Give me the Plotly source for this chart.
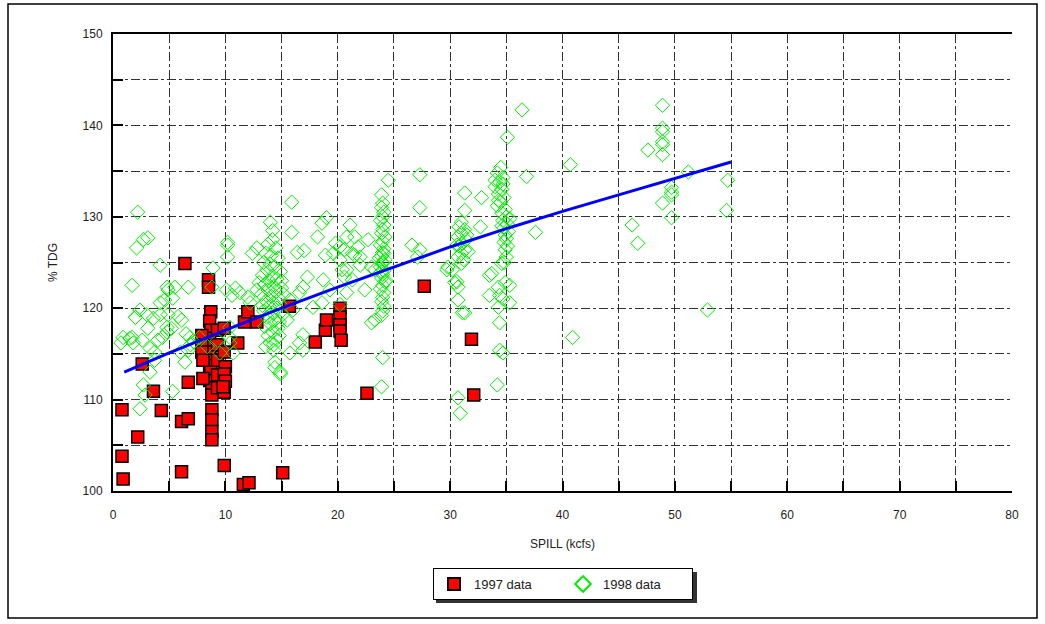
import plotly.graph_objects as go

# ---------------- data ----------------
red_x = [0.8, 0.8, 0.9, 2.2, 2.6, 3.6, 4.3, 6.1, 6.1, 6.7, 6.7, 6.4,
         8.5, 8.5, 8.7, 8.6, 8.7, 8.6, 8.7, 8.6, 8.7, 8.6, 8.7, 8.6, 8.8, 8.8, 8.8, 8.8, 8.8, 8.8,
         7.9, 7.9, 7.9, 8.0, 8.0,
         9.3, 9.3, 9.3, 9.3, 9.3,
         9.9, 9.9, 10.0, 9.9, 10.0, 9.9, 9.8,
         11.1, 11.7, 12.0, 12.8, 15.7, 18.0, 18.9, 19.0,
         20.2, 20.2, 20.2, 20.2, 20.3,
         22.6, 27.7, 31.9, 32.1,
         9.9, 11.6, 12.1, 15.1]
red_y = [108.9, 103.8, 101.3, 105.9, 113.9, 110.9, 108.8, 102.1, 107.6, 107.9, 111.9, 124.9,
         123.1, 122.3, 119.6, 118.6, 117.6, 116.7, 115.9, 115.2, 114.3, 113.7, 113.0, 112.1, 111.3, 110.5, 108.9, 107.8, 106.5, 105.6,
         117.0, 116.0, 115.2, 114.3, 112.3,
         117.6, 116.0, 114.3, 112.7, 111.3,
         117.8, 115.2, 113.6, 112.8, 112.0, 110.8, 111.4,
         116.2, 118.5, 119.6, 118.5, 120.2, 116.3, 117.6, 118.7,
         120.0, 119.0, 118.2, 117.5, 116.5,
         110.7, 122.4, 116.6, 110.5,
         102.8, 100.7, 100.9, 102.0]

green_x = [
    # x 0-13 scattered
    2.2, 2.7, 3.1, 2.1, 1.7, 5.3, 4.8, 5.5, 6.7, 4.2, 2.4, 2.0, 3.0, 3.6, 4.2, 4.9, 5.8,
    0.9, 1.7, 1.8, 2.6, 3.3, 3.7, 4.4, 4.8, 5.2, 6.0, 6.4,
    6.85, 6.9, 6.7, 7.2, 6.5, 8.9, 10.2, 10.2, 10.2, 10.1, 10.9, 10.6,
    12.2, 12.8, 12.0, 10.4, 10.4, 10.4, 7.7, 8.4, 9.3, 9.5, 10.7, 6.1, 4.8, 8.8, 11.3,
    12.4, 12.8, 0.7, 1.5, 2.0, 3.3, 3.7, 2.7, 2.85, 2.4, 5.3, 4.6, 4.2, 4.9, 3.1, 4.0,
    # x 14 cluster
    14.0, 14.2, 13.8, 14.5, 13.6, 14.1, 14.7, 13.4, 14.0, 14.4, 13.7, 14.9, 13.3, 14.2, 14.6,
    13.9, 13.5, 14.3, 15.0, 13.8, 14.5, 13.2, 14.1, 14.8, 13.6, 14.3, 13.9, 14.6, 13.4, 14.2,
    15.1, 13.7, 14.4, 14.0, 13.5, 14.7, 14.2, 13.8, 14.5, 14.0, 13.6, 14.3, 14.8, 13.3, 15.2,
    15.0, 13.0, 14.4, 14.9, 14.2,
    # x 15-23 scattered
    15.9, 15.9, 17.3, 16.9, 16.6, 18.6, 18.2, 19.0, 19.8, 19.6, 15.75, 16.0, 15.5,
    14.4, 14.9, 14.3, 14.8, 16.6, 16.9, 15.75, 18.7, 19.3, 20.2, 20.8, 17.8, 18.6,
    16.4, 17.0, 21.1, 21.5, 18.9, 16.9, 22.0, 22.4, 22.7, 21.3, 20.2,
    20.8, 21.5, 21.8, 21.3, 20.6, 22.0, 20.2, 20.4, 20.6, 20.8, 23.0, 23.3,
    # x 24 column
    24.5, 23.9, 24.0, 23.9, 24.1, 24.0, 23.8, 24.1, 24.0, 23.9, 24.2, 24.0, 23.8, 24.1, 24.0,
    23.9, 24.2, 24.0, 23.8, 24.1, 24.0, 23.9, 24.2, 24.0, 23.8, 24.1, 24.0, 23.9, 24.1, 24.0,
    23.9, 24.0, 24.1, 23.9, 24.3, 23.7, 23.0, 23.3, 24.0, 23.9,
    # x 25-30
    27.3, 27.3, 26.6, 27.3, 27.1, 29.8, 30.4, 30.7, 31.3, 29.7, 30.6, 30.7, 31.1,
    31.3, 31.3, 32.8, 32.7, 30.2, 30.7, 30.9,
    # x 31 column
    31.0, 30.8, 31.3, 31.0, 30.7, 31.4, 31.1, 30.8, 31.3, 31.0, 30.7, 31.2, 31.0, 31.5, 30.6, 31.6,
    # x 33-36 scattered
    33.7, 33.5, 34.4, 34.3, 34.4, 35.3, 34.4, 34.7, 34.2, 33.5, 34.6, 34.3, 34.9, 35.3, 34.7,
    # x 35 column
    34.5, 34.2, 34.7, 34.4, 34.0, 34.6, 34.3, 34.8, 34.5, 34.2, 34.9, 34.6, 35.0, 34.7, 35.1,
    34.8, 35.2, 34.9, 35.0, 34.8, 35.1, 34.9, 34.6, 35.3, 34.3, 34.7, 34.0, 35.0, 34.8,
    # x 35-55
    35.1, 36.4, 36.8, 37.6, 40.7, 40.9,
    48.9, 48.9, 48.9, 48.9, 48.9, 48.9, 47.6, 51.2, 49.7, 49.7, 49.7, 48.9, 49.7, 46.2, 46.7,
    54.7, 54.6, 52.9,
]
green_y = [
    130.5, 127.5, 127.7, 126.6, 122.5, 121.1, 122.3, 122.3, 122.3, 120.6, 119.8, 119.0, 119.3, 118.9, 119.3, 119.3, 119.1,
    116.8, 116.8, 116.2, 116.5, 115.6, 115.2, 116.8, 117.4, 117.8, 115.2, 114.1,
    116.8, 116.0, 115.4, 116.3, 117.2, 124.4, 127.2, 126.9, 125.6, 122.0, 122.2, 121.4,
    120.6, 122.0, 121.2, 117.9, 116.8, 116.2, 116.8, 115.8, 116.5, 115.1, 115.1, 118.7, 117.9, 122.3, 121.7,
    126.0, 126.6, 116.2, 116.7, 119.0, 113.0, 114.3, 111.6, 110.5, 109.0, 110.9, 120.9, 124.7, 122.0, 117.8, 116.5,
    129.4, 127.5, 127.0, 126.6, 126.0, 125.8, 125.5, 125.0, 124.8, 124.5, 124.2, 124.0, 123.6, 123.5, 123.2,
    123.0, 122.6, 122.4, 122.2, 122.0, 121.8, 121.5, 121.3, 121.0, 120.8, 120.6, 120.2, 120.0, 119.7, 119.5,
    119.3, 119.0, 118.7, 118.3, 118.0, 117.8, 117.4, 117.0, 116.6, 116.2, 115.8, 115.4, 118.5, 120.3, 121.5,
    123.0, 122.8, 113.5, 112.8, 128.5,
    131.6, 128.3, 123.4, 122.3, 121.7, 129.3, 127.8, 129.9, 127.1, 126.0, 120.9, 119.8, 118.7,
    114.1, 113.0, 116.0, 117.0, 116.2, 115.4, 115.1, 123.1, 122.0, 125.3, 124.2, 120.1, 120.6,
    126.1, 126.3, 129.1, 125.8, 125.8, 117.1, 124.7, 122.0, 127.5, 123.1, 120.4,
    127.8, 127.8, 126.7, 126.0, 126.4, 125.6, 126.7, 124.2, 123.4, 121.7, 124.5, 124.2,
    134.0, 132.4, 131.5, 131.0, 130.5, 130.0, 129.6, 129.1, 128.6, 128.2, 127.8, 127.3, 126.9, 126.5, 126.1,
    125.7, 125.3, 124.9, 124.5, 124.1, 123.7, 123.3, 122.9, 122.5, 122.1, 121.7, 121.2, 120.7, 120.2, 119.7,
    119.2, 125.0, 126.0, 124.0, 123.0, 125.5, 118.4, 118.7, 114.6, 111.4,
    134.6, 131.0, 126.9, 126.4, 125.6, 124.5, 122.8, 120.9, 119.5, 124.2, 122.9, 122.3, 119.5,
    132.6, 130.7, 132.1, 128.9, 124.2, 110.2, 108.5,
    129.4, 128.9, 128.6, 128.2, 127.8, 127.5, 127.1, 126.8, 126.4, 126.0, 125.6, 125.3, 124.9, 128.0, 126.9, 126.2,
    123.8, 121.4, 121.4, 120.1, 118.4, 120.6, 115.4, 115.1, 111.6, 123.6, 124.9, 122.3, 122.8, 122.5, 121.0,
    135.4, 134.8, 134.3, 133.8, 133.3, 133.0, 132.5, 132.1, 131.6, 131.2, 130.8, 130.4, 130.0, 129.6, 129.2,
    128.8, 128.4, 128.0, 127.6, 127.2, 126.8, 126.4, 129.0, 129.8, 131.8, 133.6, 134.0, 125.6, 125.0,
    138.7, 141.7, 134.4, 128.3, 135.7, 116.8,
    142.2, 139.7, 139.3, 138.2, 137.9, 136.8, 137.3, 134.9, 133.2, 132.7, 132.4, 131.5, 129.9, 129.1, 127.1,
    134.0, 130.7, 119.8,
]

fit_x = [1, 5, 10, 15, 20, 25, 30, 35, 40, 45, 50, 55]
fit_y = [113.0, 115.1, 117.6, 120.0, 122.3, 124.5, 126.7, 128.7, 130.6, 132.4, 134.2, 136.0]

x_ticks = [0, 10, 20, 30, 40, 50, 60, 70, 80]
y_ticks = [100, 110, 120, 130, 140, 150]

# ---------------- figure ----------------
fig = go.Figure()
fig.add_trace(go.Scatter(
    x=red_x, y=red_y, mode="markers", name="1997 data",
    marker=dict(symbol="square", size=12, color="#ff0000",
                line=dict(color="#000000", width=1.5))))
fig.add_trace(go.Scatter(
    x=green_x, y=green_y, mode="markers", name="1998 data",
    marker=dict(symbol="diamond-open", size=11, color="#00ee00",
                line=dict(width=1))))
fig.add_trace(go.Scatter(
    x=fit_x, y=fit_y, mode="lines", showlegend=False,
    line=dict(color="#0000ff", width=3)))

font = dict(family="Liberation Sans, Arial, sans-serif", size=12, color="#222222")
grid = dict(showgrid=True, gridcolor="#333333", gridwidth=1, griddash="dashdot")

fig.update_xaxes(
    range=[0, 80], tickvals=x_ticks, ticktext=[str(v) for v in x_ticks],
    ticks="inside", ticklen=10, tickwidth=1.5, tickcolor="#000",
    showline=True, linecolor="#000", linewidth=2, mirror=True,
    zeroline=False, tickfont=font, ticklabelstandoff=12,
    minor=dict(dtick=5, tick0=0, ticks="inside", ticklen=10, tickwidth=1.5,
               tickcolor="#000", **grid),
    title=dict(text="SPILL (kcfs)", font=font, standoff=18),
    automargin=False, **grid)
fig.update_yaxes(
    range=[100, 150], tickvals=y_ticks, ticktext=[str(v) for v in y_ticks],
    ticks="inside", ticklen=10, tickwidth=1.5, tickcolor="#000",
    showline=True, linecolor="#000", linewidth=2, mirror=False,
    zeroline=False, tickfont=font, ticklabelstandoff=6,
    minor=dict(dtick=5, tick0=100, ticks="inside", ticklen=10, tickwidth=1.5,
               tickcolor="#000", **grid),
    title=dict(text="% TDG", font=font, standoff=22),
    automargin=False, **grid)

L, R, T, B = 113, 33, 34, 133
W, H = 1045, 624
pw, ph = W - L - R, H - T - B

def px(xp):
    return (xp - L) / pw

def py(yp):
    return (H - B - yp) / ph

shapes = [
    # outer frame
    dict(type="rect", xref="paper", yref="paper",
         x0=px(8), x1=px(1037), y0=py(618), y1=py(4),
         line=dict(color="#000", width=1.5), fillcolor="rgba(0,0,0,0)", layer="below"),
    # legend shadow
    dict(type="rect", xref="paper", yref="paper",
         x0=px(436), x1=px(697), y0=py(603), y1=py(572),
         line=dict(width=0), fillcolor="#333333", layer="below"),
]

fig.update_layout(
    width=W, height=H,
    margin=dict(l=L, r=R, t=T, b=B, pad=0),
    paper_bgcolor="#ffffff", plot_bgcolor="#ffffff",
    font=font,
    showlegend=True,
    legend=dict(orientation="h", x=px(433), y=py(568), xanchor="left", yanchor="top",
                bgcolor="#ffffff", bordercolor="#000", borderwidth=1,
                font=dict(family="Liberation Sans, Arial, sans-serif", size=13, color="#222"),
                entrywidth=84, itemsizing="constant"),
    shapes=shapes,
)

fig.write_html(
    "out.html",
    config={"displayModeBar": False},
    post_script="document.body.style.margin='0';document.body.style.padding='0';",
)
